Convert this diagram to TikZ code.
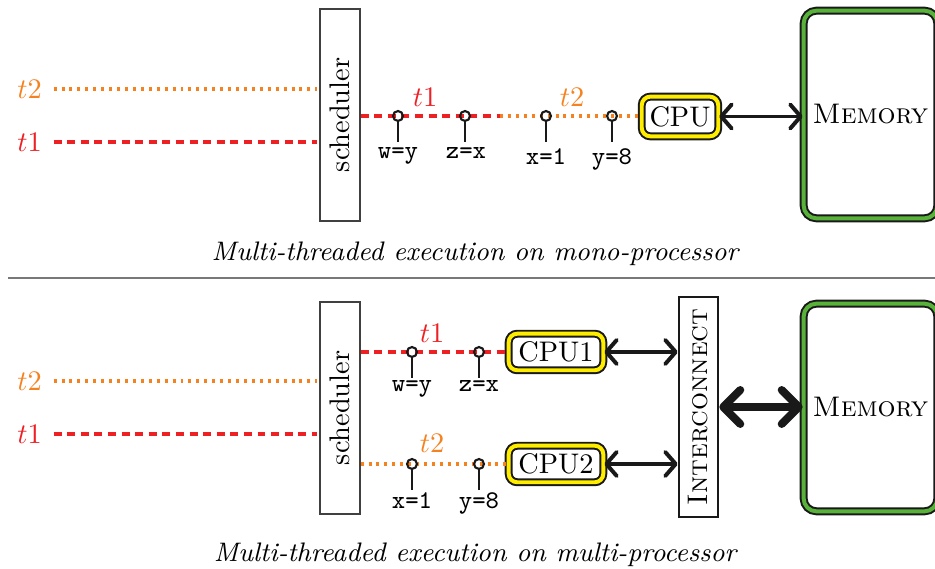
\documentclass[tikz,border=0pt]{standalone}
\usepackage{graphicx}
\usetikzlibrary{arrows.meta}
\definecolor{tred}{RGB}{237,32,36}
\definecolor{torange}{RGB}{245,130,32}
\definecolor{cpuy}{RGB}{255,237,0}
\definecolor{memg}{RGB}{88,178,58}
\definecolor{sepgray}{RGB}{120,120,120}
\tikzset{
 px/.style={x=0.353pt,y=-0.353pt},
 thrA/.style={tred, line width=1.1pt, dash pattern=on 2.8pt off 2pt},
 thrB/.style={torange, line width=1.1pt, dash pattern=on 1.05pt off 1.75pt},
 tlab/.style={inner sep=1pt},
 schedbox/.style={draw=black!75, line width=0.45pt, minimum width=14.1pt, minimum height=74.8pt, inner sep=0pt},
 cpubox/.style={draw=black!90, line width=0.7pt, double=cpuy, double distance=1.4pt, rounded corners=3pt, fill=white, inner sep=0pt},
 membox/.style={draw=black!90, line width=0.7pt, double=memg, double distance=1.4pt, rounded corners=4.5pt, fill=white, minimum width=47.2pt, minimum height=73.3pt, inner sep=0pt},
 icbox/.style={draw=black!90, line width=0.9pt, minimum width=13.8pt, minimum height=77.7pt, inner sep=0pt},
 evt/.style={circle, draw=black!90, line width=0.75pt, minimum size=3.5pt, inner sep=0pt},
 stem/.style={black!90, line width=0.75pt},
 elab/.style={font=\ttfamily\small, inner sep=0pt, anchor=base},
 bus/.style={black!90, line width=1.4pt, {Straight Barb[length=3.7pt,width=8.5pt,round]}-{Straight Barb[length=3.7pt,width=8.5pt,round]}},
 bigbus/.style={black!90, line width=2.8pt, {Straight Barb[length=6pt,width=12pt,round]}-{Straight Barb[length=6pt,width=12pt,round]}},
 capt/.style={font=\fontsize{9.45}{11}\selectfont\itshape, inner sep=0pt},
 sepline/.style={sepgray, line width=0.7pt},
}
\begin{document}
\begin{tikzpicture}[px]
\useasboundingbox (0,0) rectangle (935,569);
\clip (0,0) rectangle (935,569);
% ---------------- top panel ----------------
\node[schedbox] (s1) at (340,115) {\rotatebox{90}{scheduler}};
\node[cpubox, minimum width=27pt, minimum height=14pt] (cpu) at (680,116.5) {CPU};
\node[membox] (m1) at (870.5,114.5) {\textsc{Memory}};
\node[tlab, text=torange] (a2) at (29.5,89) {$t2$};
\node[tlab, text=tred] (a1) at (29.5,142) {$t1$};
\draw[thrB, shorten <=3pt, shorten >=0.7pt] (a2.east) -- (a2.east -| s1.west);
\draw[thrA, shorten <=3pt, shorten >=0.7pt] (a1.east) -- (a1.east -| s1.west);
\coordinate (sw1) at (500,116);
\draw[thrA] (s1.east |- sw1) -- (sw1);
\draw[thrB] (sw1) -- (cpu.west |- sw1);
\node[tlab, text=tred] (b1) at (425,97) {$t1$};
\node[tlab, text=torange] (b2) at (572,97) {$t2$};
\node[evt] (e1) at (398,116) {};
\node[evt] (e2) at (465,116) {};
\node[evt] (e3) at (546,116) {};
\node[evt] (e4) at (612,116) {};
\foreach \e in {e1,e2,e3,e4} \draw[stem] (\e.south) -- ++(0,20);
\node[elab] (l1) at (398,159) {w=y};
\node[elab] (l2) at (466,159) {z=x};
\node[elab] (l3) at (546,165) {x=1};
\node[elab] (l4) at (612,165) {y=8};
\draw[bus] (cpu.east) -- (cpu.east -| m1.west);
\node[capt] (c1) at (475,254) {Multi-threaded execution on mono-processor};
\coordinate (sepL) at (8,278);
\coordinate (sepR) at (935,278);
\draw[sepline] (sepL) -- (sepR);
% ---------------- bottom panel ----------------
\node[schedbox] (s2) at (340,408) {\rotatebox{90}{scheduler}};
\node[icbox] (ic) at (698.5,407) {\rotatebox{90}{\textsc{Interconnect}}};
\node[membox] (m2) at (870.5,407.5) {\textsc{Memory}};
\node[cpubox, minimum width=33.4pt, minimum height=12.9pt] (cpu1) at (556,352) {CPU1};
\node[cpubox, minimum width=33.4pt, minimum height=12.9pt] (cpu2) at (556,464) {CPU2};
\node[tlab, text=torange] (d2) at (29.5,381) {$t2$};
\node[tlab, text=tred] (d1) at (29.5,434) {$t1$};
\draw[thrB, shorten <=3pt, shorten >=0.7pt] (d2.east) -- (d2.east -| s2.west);
\draw[thrA, shorten <=3pt, shorten >=0.7pt] (d1.east) -- (d1.east -| s2.west);
\draw[thrA] (s2.east |- cpu1.west) -- (cpu1.west);
\draw[thrB] (s2.east |- cpu2.west) -- (cpu2.west);
\node[tlab, text=tred] (f1) at (432,333) {$t1$};
\node[tlab, text=torange] (f2) at (432,443) {$t2$};
\node[evt] (g1) at (412,352) {};
\node[evt] (g2) at (479,352) {};
\node[evt] (g3) at (412,464) {};
\node[evt] (g4) at (479,464) {};
\foreach \e in {g1,g2,g3,g4} \draw[stem] (\e.south) -- ++(0,20);
\node[elab] (k1) at (412,392) {w=y};
\node[elab] (k2) at (479,392) {z=x};
\node[elab] (k3) at (412,509) {x=1};
\node[elab] (k4) at (479,509) {y=8};
\draw[bus] (cpu1.east) -- (cpu1.east -| ic.west);
\draw[bus] (cpu2.east) -- (cpu2.east -| ic.west);
\draw[bigbus] (ic.east) -- (ic.east -| m2.west);
\node[capt] (c2) at (475,555) {Multi-threaded execution on multi-processor};
\end{tikzpicture}
\end{document}
